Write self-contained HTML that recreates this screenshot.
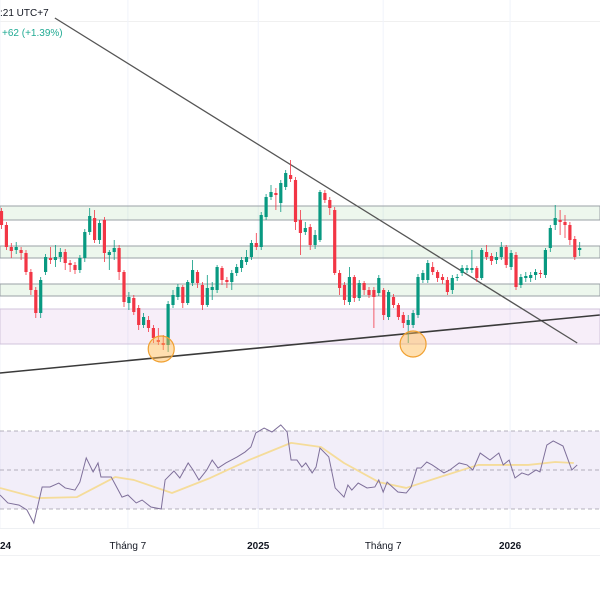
<!DOCTYPE html>
<html><head><meta charset="utf-8"><style>
html,body{margin:0;padding:0;background:#fff;width:600px;height:600px;overflow:hidden;font-family:"Liberation Sans",sans-serif}
</style></head><body>
<svg id="c" width="600" height="600" viewBox="0 0 600 600" xmlns="http://www.w3.org/2000/svg">
<line x1="0" y1="528.5" x2="600" y2="528.5" stroke="#eef0f3"/>
<line x1="0" y1="555.5" x2="600" y2="555.5" stroke="#f0f1f3"/>
<line x1="0" y1="21.5" x2="600" y2="21.5" stroke="#f0f0f0"/>
<text x="0" y="16" font-size="10" fill="#131722">:21 UTC+7</text>
<text x="2" y="36" font-size="10" fill="#22ab94">+62 (+1.39%)</text>
<g id="grid"></g><g id="bands"></g><g id="lines"></g><g id="candles"></g><g id="marks"></g>
<g id="rsi"></g><g id="axis"></g>
</svg>
<script>
const opens=[489,475,453,450,450,447,428,410,387,428,442,440,443,448,437,435,430,442,468,482,460,480,445,448,452,428,397,402,392,375,380,372,360,357,355,395,403,413,397,417,428,415,395,410,410,432,420,418,427,432,438,443,457,453,483,503,507,497,513,525,520,480,468,473,455,460,507,500,490,427,415,398,423,402,417,410,410,407,410,383,403,395,385,375,375,385,420,420,433,428,423,420,410,422,427,430,430,432,422,448,444,440,443,453,433,445,415,422,422,425,427,425,452,475,480,478,475,461,450];
const closes=[475,453,449,453,447,428,410,387,420,443,440,443,448,437,435,430,442,468,484,460,477,447,448,452,428,398,403,388,375,383,372,362,358,355,396,405,413,397,418,430,417,395,412,413,433,420,418,427,433,440,443,457,453,485,503,508,505,517,527,521,478,467,472,455,465,508,500,492,427,412,400,423,402,417,410,405,403,422,385,408,395,383,377,380,387,423,427,437,428,422,420,408,422,423,432,432,432,422,450,443,439,443,453,435,447,413,423,424,425,428,426,450,472,482,478,475,460,443,452];
const highs=[492,478,457,458,453,450,431,413,423,446,453,455,452,451,440,438,445,471,492,490,480,483,450,460,455,430,408,405,395,387,384,375,372,365,399,410,416,415,420,440,430,418,425,418,435,434,423,430,436,443,450,460,467,488,506,515,512,520,530,540,523,490,478,476,470,510,510,503,493,430,418,433,425,420,419,413,413,425,412,410,406,397,388,385,390,426,430,440,438,430,426,423,425,426,435,435,450,434,452,455,447,448,458,455,450,448,426,428,428,431,430,452,475,495,490,485,478,464,458];
const lows=[471,450,442,446,440,425,405,382,382,425,436,433,438,430,428,426,427,438,465,457,456,438,430,440,420,393,390,385,370,372,368,357,355,350,348,392,400,392,395,414,412,390,393,400,407,415,412,410,424,428,435,440,450,450,480,500,490,488,510,518,470,445,465,450,451,458,497,485,425,405,395,395,398,399,405,402,372,404,380,380,392,380,372,357,372,382,417,417,425,418,416,405,406,419,424,427,427,418,420,440,435,436,440,432,430,410,412,418,418,420,422,422,448,470,465,462,455,440,444];
const rsiT=[0,1.6,3.9,5.5,6.9,8.6,10.2,12,13.3,15.3,16.3,17.6,19,20,20.6,22.7,24.9,26.1,27.8,29,30.8,32.9,33.7,35.5,36.7,38.4,39.4,40.6,42.2,43.3,44.5,46.1,48.4,50,51.2,52.2,53.9,55.5,57.3,58.6,59.4,60.6,61.6,62.4,63.7,64.5,65.3,67.1,68.4,70.2,71,71.8,73.1,74.9,76.5,77.3,78.2,79,81.2,82.9,83.9,85.1,85.9,87.1,88.2,90.6,91.8,93.7,95.3,96.5,98,100,101.8,102.7,103.9,105.1,106.5,107.8,109.4,110.2,111.6,112.9,114.9,116.7,117.8];
const rsiV=[37.2,33.1,32,29.5,22.8,41.3,41.3,43.3,40.8,39.7,43.8,56.2,49,53.6,46.4,46.4,36.1,37.2,33.1,34.6,31,30,44.9,49.5,45.9,53.6,50,44.9,50,55.1,51,53.6,56.7,59.2,61.8,69,71.5,69.5,73.1,69.5,55.1,55.1,51.5,53.6,48.5,51.5,61.3,56.7,40.8,36.1,42.3,39.7,43.3,40.8,41.3,44.9,38.7,43.8,38.7,38.2,41.3,51,51,54.1,52.6,48.5,50,53.6,52.6,50,58.7,55.1,58.7,52.6,55.1,45.9,48.5,47.4,50,49,62.8,64.9,62.3,50,52.6];
const maT=[0,7.8,15.7,23.5,27.3,35.1,42.9,50.8,59.4,65.5,70.2,77.3,82.9,89.8,97.6,107.8,113.3,117.1];
const maV=[40.8,35.6,36.1,46.4,44.9,38.2,45.9,55.1,63.9,61.8,53.6,43.8,40.8,46.4,52.6,52.6,54.1,53.6];
const tickT=[0,26.1,52.7,78.2,104.1];
const tickLabels=["2024","Tháng 7","2025","Tháng 7","2026"];
const tickBold=[true,false,true,false,true];
const bandLo=[480,442,404];
const bandHi=[494,454,416];
const zoneLo=[356], zoneHi=[391];
const trendA=[[11.2,682],[117.8,357]];
const trendB=[[0,327],[122.4,385]];
const circles=[[32.9,351],[84.3,356]];

const X=t=>t*4.9;
const Y=p=>700-p;
const R=v=>470-(v-50)*1.95;
const NS="http://www.w3.org/2000/svg";
function mk(tag,parent,attrs){const e=document.createElementNS(NS,tag);for(const k in attrs)e.setAttribute(k,attrs[k]);document.getElementById(parent).appendChild(e);return e;}

tickT.forEach((t,i)=>{
  let g=mk('line','grid',{x1:X(t),x2:X(t),y1:0,y2:528,stroke:'#f0f3fa'});
  
  
  let tx=mk('text','axis',{x:X(t),y:549,'font-size':10,'text-anchor':'middle',fill:'#131722','font-weight':tickBold[i]?'bold':'normal'});
  tx.textContent=tickLabels[i];
  
  
});
bandLo.forEach((lo,i)=>{
  let r=mk('rect','bands',{x:0,width:600,y:Y(bandHi[i]),height:Y(lo)-Y(bandHi[i]),fill:'rgba(76,175,80,0.1)',stroke:'#9aa0a6','stroke-width':1});
  
  
});
zoneLo.forEach((lo,i)=>{
  let r=mk('rect','bands',{x:0,width:600,y:Y(zoneHi[i]),height:Y(lo)-Y(zoneHi[i]),fill:'rgba(156,39,176,0.08)',stroke:'#d0c4dc','stroke-width':1});
  
  
});
[trendA,trendB].forEach((tl,i)=>{
  let l=mk('line','lines',{x1:X(tl[0][0]),y1:Y(tl[0][1]),x2:X(tl[1][0]),y2:Y(tl[1][1]),stroke:i?'#3a3a3a':'#555','stroke-width':i?1.6:1.3});
  
  
});
const n=Math.min(opens.length,closes.length,highs.length,lows.length);
for(let i=0;i<n;i++){
  const up=closes[i]>=opens[i];const col=up?'#089981':'#f23645';
  const g=mk('g','candles',{});
  
  
  const cx=X(i)+1.5;
  const w=document.createElementNS(NS,'line');
  w.setAttribute('x1',cx);w.setAttribute('x2',cx);w.setAttribute('y1',Y(highs[i]));w.setAttribute('y2',Y(lows[i]));w.setAttribute('stroke',col);w.setAttribute('stroke-width',0.8);
  g.appendChild(w);
  const top=Y(Math.max(opens[i],closes[i])),bot=Y(Math.min(opens[i],closes[i]));
  const b=document.createElementNS(NS,'rect');
  b.setAttribute('x',cx-1.6);b.setAttribute('width',3.2);b.setAttribute('y',top);b.setAttribute('height',Math.max(1,bot-top));b.setAttribute('fill',col);
  g.appendChild(b);
}
circles.forEach(c=>{
  let e=mk('circle','marks',{cx:X(c[0]),cy:Y(c[1]),r:13,fill:'rgba(255,183,77,0.45)',stroke:'#f0a030','stroke-width':1.2});
  
  
});
let bg=mk('rect','rsi',{x:0,y:R(70),width:600,height:R(30)-R(70),fill:'rgba(126,87,194,0.1)'});


[70,50,30].forEach(v=>{
  let l=mk('line','rsi',{x1:0,x2:600,y1:R(v),y2:R(v),stroke:'#9e9aa8','stroke-dasharray':'4,3','stroke-width':0.8});
  
  
});
let ma=mk('polyline','rsi',{points:maT.map((t,i)=>X(t)+','+R(maV[i])).join(' '),fill:'none',stroke:'#f5dc9a','stroke-width':1.8,'stroke-linejoin':'round'});


let rl=mk('polyline','rsi',{points:rsiT.map((t,i)=>X(t)+','+R(rsiV[i])).join(' '),fill:'none',stroke:'#7e6f9a','stroke-width':1});


</script>
</body></html>
